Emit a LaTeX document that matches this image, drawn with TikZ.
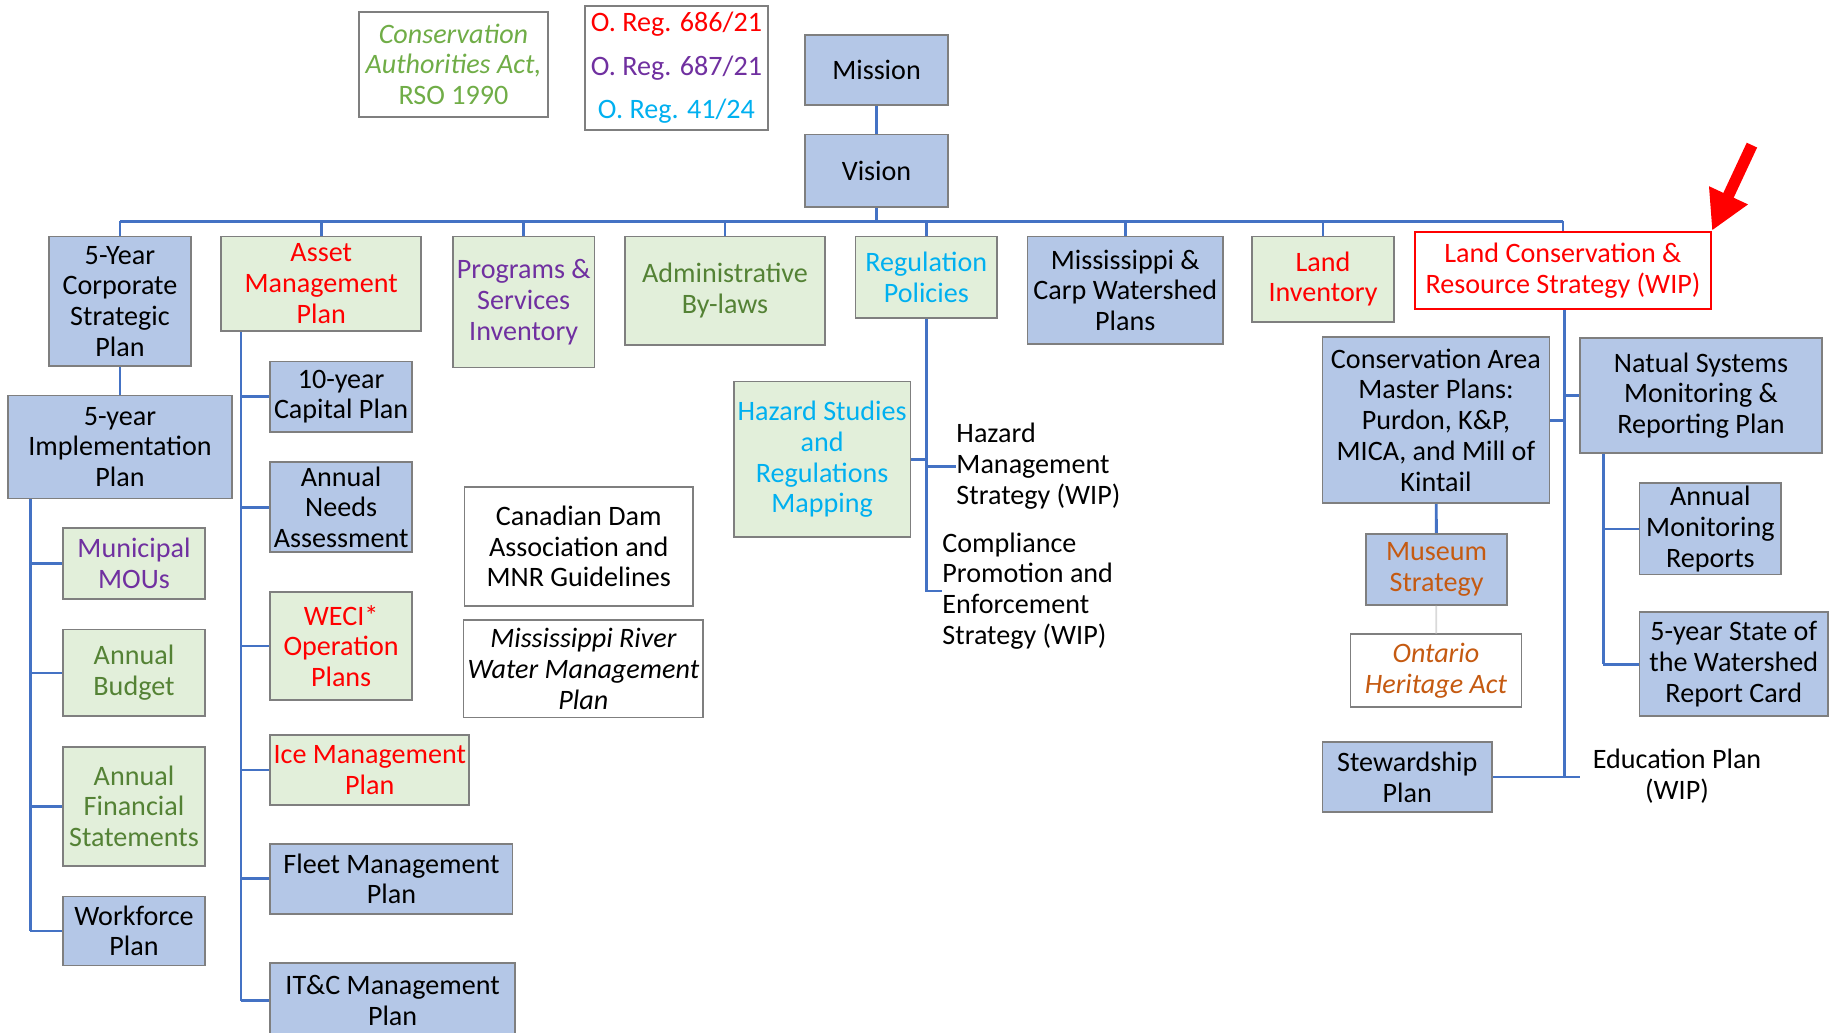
\documentclass[tikz,border=0pt]{standalone}
\usepackage{fontspec}
\setmainfont{Carlito}
\usetikzlibrary{arrows.meta,calc,positioning}
\definecolor{boxblue}{HTML}{B4C7E7}
\definecolor{boxgreen}{HTML}{E2EFDA}
\definecolor{boxgray}{HTML}{7F7F7F}
\definecolor{lineblue}{HTML}{4472C4}
\definecolor{txtred}{HTML}{FF0000}
\definecolor{txtpurple}{HTML}{7030A0}
\definecolor{txtcyan}{HTML}{00B0F0}
\definecolor{txtgreen}{HTML}{548235}
\definecolor{actgreen}{HTML}{70AD47}
\definecolor{txtorange}{HTML}{C55A11}
\tikzset{
    sz/.style 2 args={minimum width=#1*0.23406mm, minimum height=#2*0.23406mm},
    bbox/.style={draw=boxgray, line width=1pt, fill=boxblue},
    gbox/.style={draw=boxgray, line width=1pt, fill=boxgreen},
    wbox/.style={draw=boxgray, line width=1pt, fill=white},
    link/.style={draw=lineblue, line width=1.6pt}
}

\begin{document}
\begin{tikzpicture}[x=0.23406mm, y=-0.23406mm,
    every node/.style={font=\fontsize{16}{17.5}\selectfont, align=center, inner sep=0pt}]
                        \useasboundingbox (0,0) rectangle (1568,882);
                        % legal frame
                        \node[wbox, sz={161}{90}, text=actgreen] (cons) at (387.5,55) {\textit{Conservation}\\\textit{Authorities Act,}\\RSO 1990};
                        \node[wbox, sz={156}{106}, font=\fontsize{16}{24.6}\selectfont] (oreg) at (578,58) {\textcolor{txtred}{O. Reg. 686/21}\\\textcolor{txtpurple}{O. Reg. 687/21}\\\textcolor{txtcyan}{O. Reg. 41/24}};
                        \node[bbox, sz={122}{60}] (mission) at (749,60) {Mission};
                        \node[bbox, sz={122}{62}] (vision) at (749,146) {Vision};
                        % first row
                        \node[bbox, sz={121}{111}] (corp) at (102.5,257.5) {5-Year\\Corporate\\Strategic\\Plan};
                        \node[gbox, sz={171}{81}, text=txtred] (asset) at (274.5,242.5) {Asset\\Management\\Plan};
                        \node[gbox, sz={121}{112}, text=txtpurple] (progs) at (447.5,258) {Programs \&\\Services\\Inventory};
                        \node[gbox, sz={171}{93}, text=txtgreen] (admin) at (619.5,248.5) {Administrative\\By-laws};
                        \node[gbox, sz={121}{70}, text=txtcyan] (regpol) at (791.5,237) {Regulation\\Policies};
                        \node[bbox, sz={167}{92}] (mcwp) at (961.5,248) {Mississippi \&\\Carp Watershed\\Plans};
                        \node[gbox, sz={121}{73}, text=txtred] (landinv) at (1130.5,238.5) {Land\\Inventory};
                        \node[draw=txtred, line width=1.2pt, fill=white, sz={253}{66}, text=txtred] (lcrs) at (1335.5,231) {Land Conservation \&\\Resource Strategy (WIP)};
                        % corporate plans
                        \node[bbox, sz={191}{88}] (impl) at (102.5,382) {5-year\\Implementation\\Plan};
                        \node[gbox, sz={121}{61}, text=txtpurple] (mous) at (114.5,481.5) {Municipal\\MOUs};
                        \node[gbox, sz={121}{74}, text=txtgreen] (budget) at (114.5,575) {Annual\\Budget};
                        \node[gbox, sz={121}{102}, text=txtgreen] (finst) at (114.5,689) {Annual\\Financial\\Statements};
                        \node[bbox, sz={121}{59}] (workf) at (114.5,795.5) {Workforce\\Plan};
                        % asset plans
                        \node[bbox, sz={121}{60}] (capplan) at (291.5,339) {10-year\\Capital Plan};
                        \node[bbox, sz={121}{77}] (needs) at (291.5,433.5) {Annual\\Needs\\Assessment};
                        \node[gbox, sz={121}{92}, text=txtred] (weci) at (291.5,552) {WECI*\\Operation\\Plans};
                        \node[gbox, sz={170}{60}, text=txtred] (ice) at (316,658) {Ice Management\\Plan};
                        \node[bbox, sz={207}{60}] (fleet) at (334.5,751) {Fleet Management\\Plan};
                        \node[bbox, sz={209}{64}] (itc) at (335.5,855) {IT\&C Management\\Plan};
                        \node[wbox, sz={195}{102}] (cdma) at (494.5,467) {Canadian Dam\\Association and\\MNR Guidelines};
                        \node[wbox, sz={205}{83}, font=\fontsize{16}{17.5}\selectfont\itshape] (mrwmp) at (498.5,571.5) {Mississippi River\\Water Management\\Plan};
                        % regulations
                        \node[gbox, sz={151}{133}, text=txtcyan] (hazmap) at (702.5,392.5) {Hazard Studies\\and\\Regulations\\Mapping};
                        \node[anchor=west, align=left] (hazstrat) at (817,398.5) {Hazard\\Management\\Strategy (WIP)};
                        \node[anchor=west, align=left] (compl) at (805,505) {Compliance\\Promotion and\\Enforcement\\Strategy (WIP)};
                        % land conservation
                        \node[bbox, sz={194}{142}] (camp) at (1227,359) {Conservation Area\\Master Plans:\\Purdon, K\&P,\\MICA, and Mill of\\Kintail};
                        \node[bbox, sz={207}{98}] (nsmr) at (1453.5,338) {Natual Systems\\Monitoring \&\\Reporting Plan};
                        \node[bbox, sz={121}{61}, text=txtorange] (museum) at (1227.5,486.5) {Museum\\Strategy};
                        \node[wbox, sz={146}{62}, text=txtorange, font=\fontsize{16}{17.5}\selectfont\itshape] (ohact) at (1227,573) {Ontario\\Heritage Act};
                        \node[bbox, sz={145}{60}] (stew) at (1202.5,664) {Stewardship\\Plan};
                        \node (edu) at (1433,663) {Education Plan\\(WIP)};
                        \node[bbox, sz={121}{78}] (amr) at (1461.5,452) {Annual\\Monitoring\\Reports};
                        \node[bbox, sz={161}{89}] (sotw) at (1481.5,567.5) {5-year State of\\the Watershed\\Report Card};
                        % spines
                        \coordinate (bus) at (749,189);
                        \coordinate (ip) at (26,0);
                        \coordinate (ap) at (206,0);
                        \coordinate (lp) at (1337,0);
                        \coordinate (np) at (1370,0);
                        \coordinate (eduend) at (1350,664);
                        \coordinate (arrowtail) at (1497,124);
                        \draw[link] (mission) -- (vision) -- (bus);
                        \draw[link] (corp.north |- bus) -- (lcrs.north |- bus);
                        \foreach \n in {corp,asset,progs,admin,regpol,mcwp,landinv,lcrs}
                            \draw[link] (\n.north |- bus) -- (\n.north);
                        \draw[link] (corp) -- (impl);
                        \draw[link] (ip |- impl.south) -- (ip |- workf.west);
                        \foreach \n in {mous,budget,finst,workf}
                            \draw[link] (ip |- \n.west) -- (\n.west);
                        \draw[link] (ap |- asset.south) -- (ap |- itc.west);
                        \foreach \n in {capplan,needs,weci,ice,fleet,itc}
                            \draw[link] (ap |- \n.west) -- (\n.west);
                        \draw[link] (regpol) -- (regpol.south |- compl.west) -- (compl.west);
                        \draw[link] (hazmap.east) -- (hazmap.east -| regpol.south);
                        \draw[link] (regpol.south |- hazstrat.west) -- (hazstrat.west);
                        \draw[link] (lp |- lcrs.south) -- (lp |- stew.east);
                        \draw[link] (camp.east) -- (lp |- camp.east);
                        \draw[link] (lp |- nsmr.west) -- (nsmr.west);
                        \draw[link] (stew.east) -- (eduend);
                        \draw[link] (camp) -- (museum);
                        \draw[gray!30, line width=1pt] (museum) -- (ohact);
                        \draw[link] (np |- nsmr.south) -- (np |- sotw.west);
                        \foreach \n in {amr,sotw}
                            \draw[link] (np |- \n.west) -- (\n.west);
                        \draw[txtred, line width=6.5pt, -{Triangle[length=7.8mm, width=8mm]}] (arrowtail) -- (lcrs.north east);
                    \end{tikzpicture}
\end{document}
